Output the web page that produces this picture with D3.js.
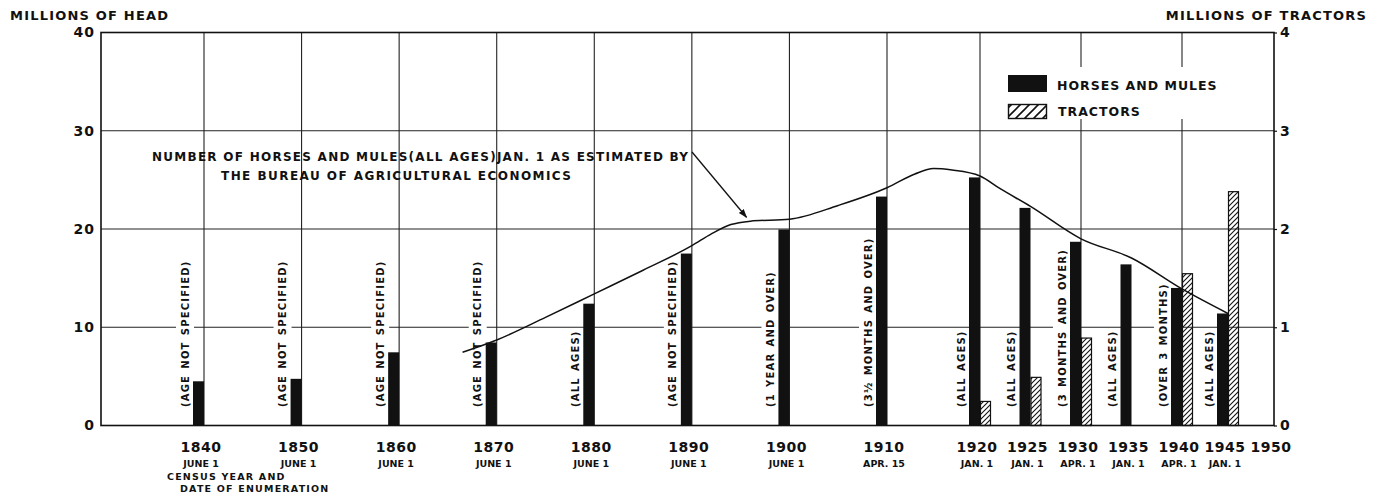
<!DOCTYPE html>
<html>
<head>
<meta charset="utf-8">
<script src="https://cdn.jsdelivr.net/npm/d3@7"></script>
<style>
	body { margin: 0; background: #fff; }
	text { font-family: "DejaVu Sans", sans-serif; font-weight: bold; fill: #111; }
</style>
</head>
<body>
<script>
//census years with a horses and mules bar
var years = [1840, 1850, 1860, 1870, 1880, 1890, 1900, 1910, 1920, 1925, 1930, 1935, 1940, 1945];
//millions of head
var horsesMules = [4.5, 4.75, 7.45, 8.45, 12.4, 17.5, 19.95, 23.3, 25.25, 22.15, 18.7, 16.4, 14.0, 11.4];
//age note written beside each bar
var ageNotes = ["(AGE NOT SPECIFIED)", "(AGE NOT SPECIFIED)", "(AGE NOT SPECIFIED)", "(AGE NOT SPECIFIED)",
	"(ALL AGES)", "(AGE NOT SPECIFIED)", "(1 YEAR AND OVER)", "(3\u00BD MONTHS AND OVER)", "(ALL AGES)",
	"(ALL AGES)", "(3 MONTHS AND OVER)", "(ALL AGES)", "(OVER 3 MONTHS)", "(ALL AGES)"];

//tractors, millions
var tractorYears = [1920, 1925, 1930, 1940, 1945];
var tractors = [0.245, 0.49, 0.89, 1.545, 2.38];

//BAE estimate line (Jan. 1), millions of head
var baeYears = [1866.5, 1870, 1875, 1880, 1885, 1890, 1892, 1894, 1896, 1900, 1905, 1910, 1913, 1915, 1917, 1920, 1922, 1925, 1930, 1935, 1940, 1945];
var baeValues = [7.45, 8.7, 11.0, 13.4, 15.8, 18.3, 19.5, 20.45, 20.8, 21.0, 22.4, 24.2, 25.6, 26.15, 26.0, 25.4, 24.1, 22.3, 19.0, 17.05, 13.9, 11.4];

//x axis labels
var tickYears = [1840, 1850, 1860, 1870, 1880, 1890, 1900, 1910, 1920, 1925, 1930, 1935, 1940, 1945, 1950];
var tickDates = ["JUNE 1", "JUNE 1", "JUNE 1", "JUNE 1", "JUNE 1", "JUNE 1", "JUNE 1", "APR. 15",
	"JAN. 1", "JAN. 1", "APR. 1", "JAN. 1", "APR. 1", "JAN. 1", ""];
var gridYears = [1840, 1850, 1860, 1870, 1880, 1890, 1900, 1910, 1920, 1930, 1940];
var headTicks = [0, 10, 20, 30, 40];
var tractorTicks = [0, 1, 2, 3, 4];

window.onload = function(){

	var w = 1381, h = 499;
	var left = 101, right = 1274, top = 32.5, bottom = 425.5;
	var barW = 11;

	var svg = d3.select("body")
		.append("svg")
		.attr("width", w)
		.attr("height", h);

	//hatch patterns for the tractor bars
	var defs = svg.append("defs");
	defs.append("pattern")
		.attr("id", "hatch")
		.attr("patternUnits", "userSpaceOnUse")
		.attr("width", 5)
		.attr("height", 5)
		.append("path")
		.attr("d", "M-1,1 l2,-2 M0,5 l5,-5 M4,6 l2,-2")
		.attr("stroke", "#111")
		.attr("stroke-width", 1.1);
	defs.append("pattern")
		.attr("id", "hatchBig")
		.attr("patternUnits", "userSpaceOnUse")
		.attr("width", 9)
		.attr("height", 9)
		.append("path")
		.attr("d", "M-2,2 l4,-4 M0,9 l9,-9 M7,11 l4,-4")
		.attr("stroke", "#111")
		.attr("stroke-width", 1.6);
	defs.append("marker")
		.attr("id", "arrow")
		.attr("viewBox", "0 0 10 10")
		.attr("refX", 9)
		.attr("refY", 5)
		.attr("markerWidth", 9)
		.attr("markerHeight", 9)
		.attr("markerUnits", "userSpaceOnUse")
		.attr("orient", "auto")
		.append("path")
		.attr("d", "M0,1.5 L10,5 L0,8.5 z")
		.attr("fill", "#111");

	//hand drawn chart: the year spacing is not quite even
	var x = d3.scaleLinear()
		.domain([1830, 1840, 1910, 1920, 1940, 1950])
		.range([left, 204, 887, 980, 1182, right]);

	var yHead = d3.scaleLinear()
		.domain([0, 40])
		.range([bottom, top]);

	var yTractor = d3.scaleLinear()
		.domain([0, 4])
		.range([bottom, top]);

	//gridlines
	svg.append("g").selectAll("line")
		.data([10, 20, 30])
		.enter()
		.append("line")
		.attr("x1", left)
		.attr("x2", right)
		.attr("y1", function(d){ return yHead(d); })
		.attr("y2", function(d){ return yHead(d); })
		.attr("stroke", "#222")
		.attr("stroke-width", 1.1);

	svg.append("g").selectAll("line")
		.data(gridYears)
		.enter()
		.append("line")
		.attr("x1", function(d){ return x(d); })
		.attr("x2", function(d){ return x(d); })
		.attr("y1", top)
		.attr("y2", bottom)
		.attr("stroke", "#222")
		.attr("stroke-width", 1.1);

	//age notes, white behind them breaks the gridlines
	var notes = svg.append("g").selectAll("g")
		.data(years)
		.enter()
		.append("g")
		.attr("transform", function(d){
			return "translate(" + (x(d) - barW - 8) + "," + 407 + ") rotate(-90)";
		});

	var noteText = notes.append("text")
		.attr("x", 0)
		.attr("y", 0)
		.attr("dy", "0.36em")
		.style("font-size", "10px")
		.style("letter-spacing", "1.2px")
		.style("word-spacing", "1.5px")
		.text(function(d, i){ return ageNotes[i]; });

	notes.insert("rect", "text")
		.attr("x", -2)
		.attr("y", -9)
		.attr("height", 18)
		.attr("width", function(d, i){
			return noteText.nodes()[i].getComputedTextLength() + 4;
		})
		.attr("fill", "#fff");

	//legend box, also white over the grid
	var legend = svg.append("g");
	legend.append("rect")
		.attr("x", 1000).attr("y", 67)
		.attr("width", 228).attr("height", 52)
		.attr("fill", "#fff");
	legend.append("rect")
		.attr("x", 1008).attr("y", 75)
		.attr("width", 39).attr("height", 17)
		.attr("fill", "#111");
	legend.append("rect")
		.attr("x", 1008.5).attr("y", 104.5)
		.attr("width", 38).attr("height", 14)
		.attr("fill", "url(#hatchBig)")
		.attr("stroke", "#111")
		.attr("stroke-width", 1.4);
	legend.append("text")
		.attr("x", 1057).attr("y", 89.5)
		.style("font-size", "12.5px")
		.style("letter-spacing", "1px")
		.text("HORSES AND MULES");
	legend.append("text")
		.attr("x", 1058).attr("y", 115.5)
		.style("font-size", "12.5px")
		.style("letter-spacing", "1px")
		.text("TRACTORS");

	//horses and mules bars, left of the year
	svg.append("g").selectAll("rect")
		.data(years)
		.enter()
		.append("rect")
		.attr("x", function(d){ return x(d) - barW; })
		.attr("y", function(d, i){ return yHead(horsesMules[i]); })
		.attr("width", barW)
		.attr("height", function(d, i){ return bottom - yHead(horsesMules[i]); })
		.attr("fill", "#111");

	//tractor bars, right of the year
	svg.append("g").selectAll("rect")
		.data(tractorYears)
		.enter()
		.append("rect")
		.attr("x", function(d){ return x(d) + 0.5; })
		.attr("y", function(d, i){ return yTractor(tractors[i]); })
		.attr("width", barW - 1)
		.attr("height", function(d, i){ return bottom - yTractor(tractors[i]); })
		.attr("fill", "url(#hatch)")
		.attr("stroke", "#111")
		.attr("stroke-width", 1.2);

	//BAE estimate line
	var line = d3.line()
		.x(function(d){ return x(d); })
		.y(function(d, i){ return yHead(baeValues[i]); })
		.curve(d3.curveMonotoneX);

	svg.append("path")
		.datum(baeYears)
		.attr("d", line)
		.attr("fill", "none")
		.attr("stroke", "#111")
		.attr("stroke-width", 1.5);

	//annotation and arrow
	svg.append("text")
		.attr("x", 152).attr("y", 160.5)
		.attr("textLength", 536)
		.attr("lengthAdjust", "spacing")
		.style("font-size", "12px")
		.text("NUMBER OF HORSES AND MULES(ALL AGES)JAN. 1 AS ESTIMATED BY");
	svg.append("text")
		.attr("x", 221).attr("y", 179.5)
		.attr("textLength", 350)
		.attr("lengthAdjust", "spacing")
		.style("font-size", "12px")
		.text("THE BUREAU OF AGRICULTURAL ECONOMICS");
	svg.append("line")
		.attr("x1", 692).attr("y1", 152)
		.attr("x2", x(1895.6)).attr("y2", yHead(21.2))
		.attr("stroke", "#111")
		.attr("stroke-width", 1.3)
		.attr("marker-end", "url(#arrow)");

	//frame
	svg.append("rect")
		.attr("x", left).attr("y", top)
		.attr("width", right - left).attr("height", bottom - top)
		.attr("fill", "none")
		.attr("stroke", "#111")
		.attr("stroke-width", 1.6);

	//left axis
	var leftAxis = svg.append("g")
		.attr("transform", "translate(" + left + ",0)")
		.call(d3.axisLeft(yHead).tickValues(headTicks).tickFormat(d3.format("d")).tickSize(0).tickPadding(6));
	leftAxis.select(".domain").remove();
	leftAxis.selectAll("text")
		.style("font-size", "14px")
		.style("font-family", "DejaVu Sans")
		.style("letter-spacing", "1px");

	//right axis
	var rightAxis = svg.append("g")
		.attr("transform", "translate(" + right + ",0)")
		.call(d3.axisRight(yTractor).tickValues(tractorTicks).tickFormat(d3.format("d")).tickSize(3).tickPadding(3));
	rightAxis.select(".domain").remove();
	rightAxis.selectAll("line").attr("stroke", "#111").attr("stroke-width", 1.2);
	rightAxis.selectAll("text")
		.style("font-size", "14px")
		.style("font-family", "DejaVu Sans");

	//axis titles
	svg.append("text")
		.attr("x", 10).attr("y", 20)
		.style("font-size", "13px")
		.style("letter-spacing", "1.2px")
		.text("MILLIONS OF HEAD");
	svg.append("text")
		.attr("x", 1367).attr("y", 20)
		.attr("text-anchor", "end")
		.style("font-size", "13px")
		.style("letter-spacing", "1.2px")
		.text("MILLIONS OF TRACTORS");

	//year labels with date of enumeration
	var ticks = svg.append("g").selectAll("g")
		.data(tickYears)
		.enter()
		.append("g")
		.attr("transform", function(d){ return "translate(" + (x(d) - 3) + ",0)"; });
	ticks.append("text")
		.attr("y", 452)
		.attr("text-anchor", "middle")
		.style("font-size", "14px")
		.style("letter-spacing", "0.5px")
		.text(function(d){ return d; });
	ticks.append("text")
		.attr("y", 467)
		.attr("text-anchor", "middle")
		.style("font-size", "9.5px")
		.text(function(d, i){ return tickDates[i]; });

	svg.append("text")
		.attr("x", 167).attr("y", 480)
		.style("font-size", "9.5px")
		.style("letter-spacing", "1.2px")
		.text("CENSUS YEAR AND");
	svg.append("text")
		.attr("x", 180).attr("y", 492)
		.style("font-size", "9.5px")
		.style("letter-spacing", "1.2px")
		.text("DATE OF ENUMERATION");
};
</script>
</body>
</html>
